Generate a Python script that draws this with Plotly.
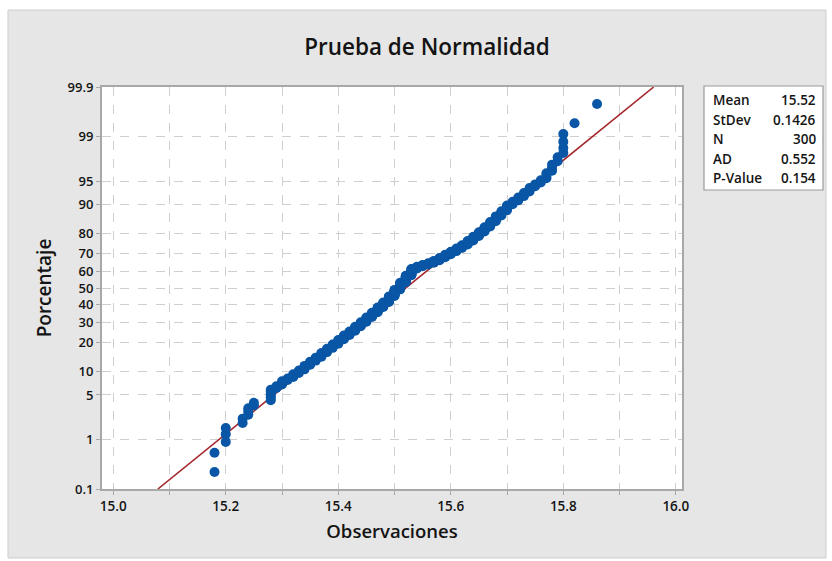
import plotly.graph_objects as go
from statistics import NormalDist

obs_values = [15.18, 15.20, 15.23, 15.24, 15.25, 15.28, 15.29, 15.30, 15.31, 15.32,
              15.33, 15.34, 15.35, 15.36, 15.37, 15.38, 15.39, 15.40, 15.41, 15.42,
              15.43, 15.44, 15.45, 15.46, 15.47, 15.48, 15.49, 15.50, 15.51, 15.52,
              15.53, 15.54, 15.55, 15.56, 15.57, 15.58, 15.59, 15.60, 15.61, 15.62,
              15.63, 15.64, 15.65, 15.66, 15.67, 15.68, 15.69, 15.70, 15.71, 15.72,
              15.73, 15.74, 15.75, 15.76, 15.77, 15.78, 15.79, 15.80, 15.82, 15.86]
obs_counts = [2, 3, 2, 3, 2, 6, 2, 3, 2, 3,
              3, 4, 4, 4, 5, 5, 5, 6, 6, 6,
              7, 7, 8, 8, 9, 9, 11, 12, 13, 13,
              12, 4, 3, 3, 4, 5, 5, 5, 5, 5,
              6, 6, 6, 6, 6, 6, 5, 5, 3, 3,
              3, 3, 2, 2, 3, 3, 2, 4, 1, 1]

stat_labels = ["Mean", "StDev", "N", "AD", "P-Value"]
stat_values = ["15.52", "0.1426", "300", "0.552", "0.154"]
fit_mean = 15.52
fit_sd = 0.1426

pct_ticks = [0.1, 1, 5, 10, 20, 30, 40, 50, 60, 70, 80, 90, 95, 99, 99.9]
pct_labels = ["0.1", "1", "5", "10", "20", "30", "40", "50", "60", "70", "80", "90", "95", "99", "99.9"]
x_ticks = [15.0, 15.1, 15.2, 15.3, 15.4, 15.5, 15.6, 15.7, 15.8, 15.9, 16.0]
x_labels = ["15.0", "", "15.2", "", "15.4", "", "15.6", "", "15.8", "", "16.0"]

# ---- probability-plot transform ----
nd = NormalDist()
data = []
for v, c in zip(obs_values, obs_counts):
    data += [v] * c
data.sort()
n = len(data)
z_pts = [nd.inv_cdf((i - 0.3) / (n + 0.4)) for i in range(1, n + 1)]

z_lo = nd.inv_cdf(0.001)
z_hi = nd.inv_cdf(0.999)
line_z = [z_lo, z_hi]
line_x = [fit_mean + fit_sd * z for z in line_z]

ytickvals = [nd.inv_cdf(p / 100) for p in pct_ticks]

FONT = "Open Sans"
BLUE = "#0a56a6"
RED = "#a4262c"
GRID = "#cfcfcf"
FRAME = "#a8a8a8"
TXT = "#141414"

fig = go.Figure()
fig.add_trace(go.Scatter(x=line_x, y=line_z, mode="lines",
                         line=dict(color=RED, width=1.6), hoverinfo="skip",
                         showlegend=False))
fig.add_trace(go.Scatter(x=data, y=z_pts, mode="markers",
                         marker=dict(color=BLUE, size=10, line=dict(width=0)),
                         showlegend=False))

W, H = 832, 561
L, R, T, B = 102, 150, 87, 72
pw, ph = W - L - R, H - T - B

def px(xp):
    return (xp - L) / pw

def py(yp):
    return (H - B - yp) / ph

shapes = [
    # grey outer panel
    dict(type="rect", xref="paper", yref="paper", x0=px(8), x1=px(826), y0=py(558), y1=py(10),
         fillcolor="#e6e6e6", line=dict(color="#cdcdcd", width=1), layer="below"),
    # white plot area
    dict(type="rect", xref="paper", yref="paper", x0=0, x1=1, y0=0, y1=1,
         fillcolor="white", line=dict(width=0), layer="below"),
    # stats box
    dict(type="rect", xref="paper", yref="paper", x0=px(704), x1=px(823), y0=py(190), y1=py(86),
         fillcolor="white", line=dict(color="#9a9a9a", width=1.2), layer="above"),
]

annotations = []
row_y = [100, 119.5, 139, 158.5, 178]
for lab, val, ry in zip(stat_labels, stat_values, row_y):
    annotations.append(dict(xref="paper", yref="paper", x=px(711), y=py(ry), text=lab,
                            showarrow=False, xanchor="left", yanchor="middle",
                            font=dict(family=FONT, size=13.5, color=TXT, weight=600)))
    annotations.append(dict(xref="paper", yref="paper", x=px(818), y=py(ry), text=val,
                            showarrow=False, xanchor="right", yanchor="middle",
                            font=dict(family=FONT, size=13.5, color=TXT, weight=600)))

fig.update_layout(
    width=W, height=H,
    margin=dict(l=L, r=R, t=T, b=B, pad=0),
    paper_bgcolor="white",
    plot_bgcolor="white",
    showlegend=False,
    font=dict(family=FONT, color=TXT),
    title=dict(text="Prueba de Normalidad", x=427 / W, xref="container", xanchor="center",
               y=1 - 47 / H, yref="container", yanchor="middle",
               font=dict(family=FONT, size=22.5, color=TXT, weight=600)),
    shapes=shapes,
    annotations=annotations,
)

fig.update_xaxes(
    range=[14.98, 16.011], tickvals=x_ticks, ticktext=x_labels,
    showgrid=True, gridcolor=GRID, griddash="dash", gridwidth=1,
    showline=True, linecolor=FRAME, linewidth=2, mirror=True,
    ticks="outside", ticklen=4, tickcolor=FRAME, zeroline=False,
    tickfont=dict(family=FONT, size=13.5, color=TXT, weight=600),
    title=dict(text="Observaciones", font=dict(family=FONT, size=18.5, color=TXT, weight=600), standoff=11),
)
fig.update_yaxes(
    range=[z_lo, z_hi], tickvals=ytickvals, ticktext=pct_labels,
    showgrid=True, gridcolor=GRID, griddash="dash", gridwidth=1,
    showline=True, linecolor=FRAME, linewidth=2, mirror=True,
    ticks="outside", ticklen=4, tickcolor=FRAME, zeroline=False,
    tickfont=dict(family=FONT, size=13, color=TXT, weight=600),
    title=dict(text="Porcentaje", font=dict(family=FONT, size=19, color=TXT, weight=600), standoff=11),
)

fig.write_html("out.html")
